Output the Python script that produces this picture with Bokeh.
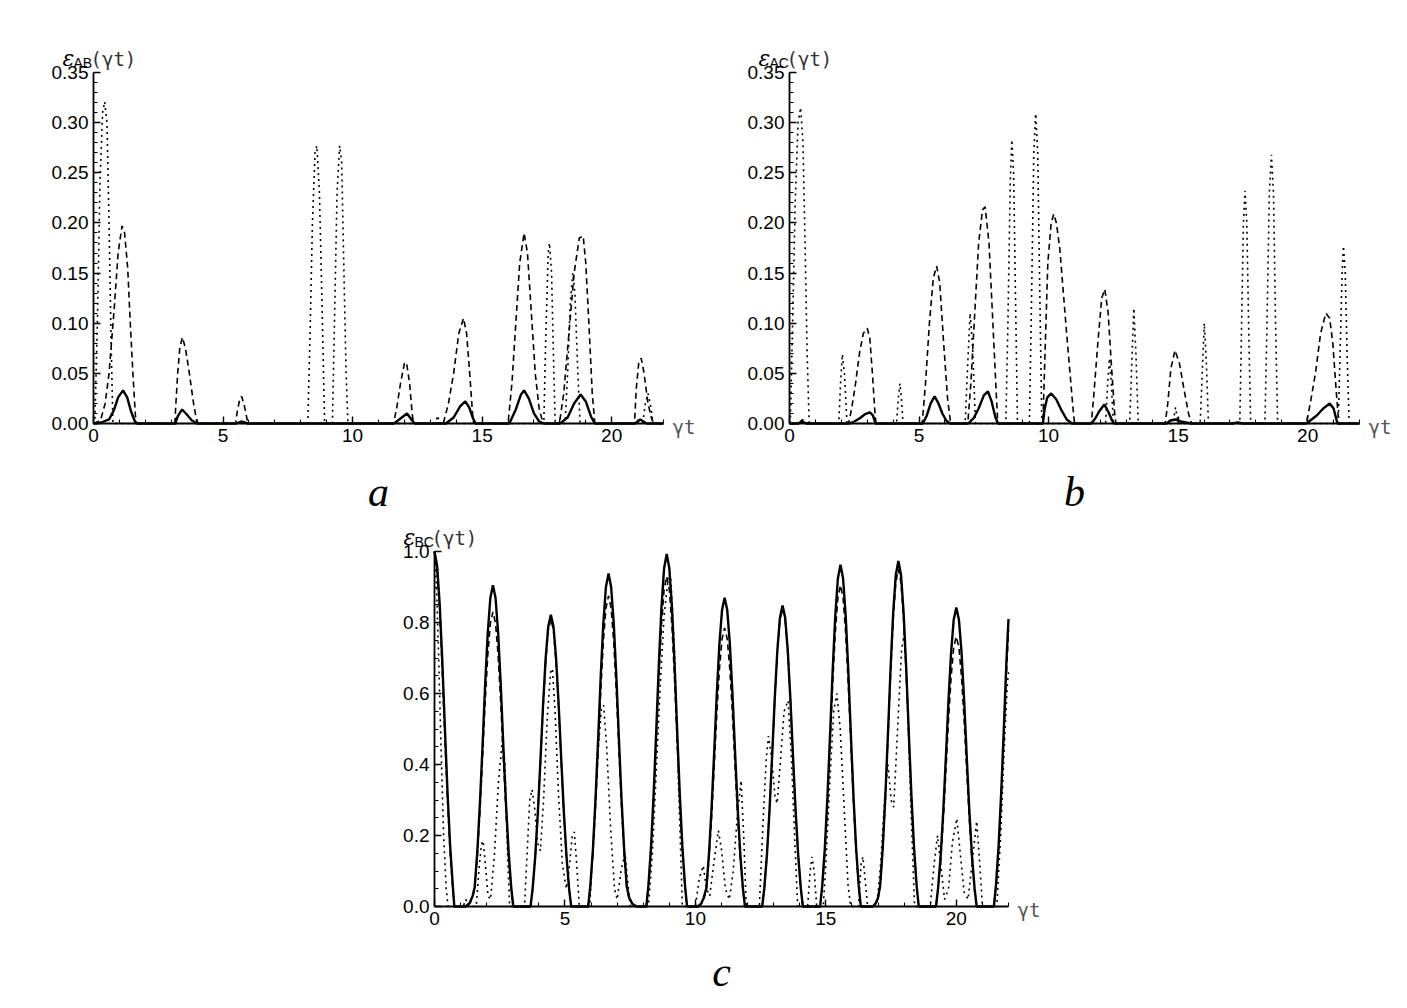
from bokeh.plotting import figure
from bokeh.layouts import column, row
from bokeh.models import Spacer, FixedTicker, PrintfTickFormatter, Range1d
from bokeh.core.properties import value
from bokeh.embed import file_html
from bokeh.resources import INLINE

# ---------------- data: panel a (E_AB) ----------------
ab_solid_t = [0, 0.3, 0.6, 0.8, 0.95, 1.14, 1.3, 1.45, 1.6, 1.68,
              3.15, 3.25, 3.42, 3.6, 3.8, 4.0,
              5.5, 5.7, 5.95,
              11.6, 11.8, 12.1, 12.3, 12.4,
              13.6, 13.9, 14.15, 14.35, 14.5, 14.65, 14.75,
              16.05, 16.3, 16.5, 16.62, 16.8, 17.0, 17.2, 17.4,
              18.0, 18.3, 18.55, 18.8, 19.0, 19.2, 19.35,
              20.9, 21.1, 21.35, 22.0]
ab_solid_v = [0, 0.001, 0.004, 0.014, 0.026, 0.033, 0.026, 0.012, 0.002, 0,
              0, 0.007, 0.014, 0.009, 0.003, 0,
              0, 0.002, 0,
              0, 0.004, 0.010, 0.003, 0,
              0, 0.006, 0.017, 0.022, 0.016, 0.005, 0,
              0, 0.014, 0.029, 0.033, 0.025, 0.010, 0.002, 0,
              0, 0.006, 0.020, 0.029, 0.022, 0.007, 0,
              0, 0.004, 0, 0]
ab_dash_t = [0, 0.27, 0.45, 0.6, 0.8, 0.95, 1.1, 1.2, 1.32, 1.42, 1.52, 1.62, 1.67,
             3.14, 3.18, 3.25, 3.33, 3.43, 3.55, 3.7, 3.85, 4.0,
             5.48, 5.55, 5.65, 5.72, 5.82, 5.93, 5.96,
             11.58, 11.7, 11.85, 12.0, 12.08, 12.2, 12.3, 12.35,
             13.5, 13.7, 13.9, 14.1, 14.28, 14.4, 14.52, 14.63, 14.67,
             16.0, 16.15, 16.3, 16.45, 16.62, 16.75, 16.9, 17.05, 17.2, 17.35,
             17.98, 18.15, 18.35, 18.55, 18.75, 18.9, 19.0, 19.12, 19.25, 19.35,
             20.88, 20.95, 21.05, 21.14, 21.25, 21.4, 21.55, 21.65, 22.0]
ab_dash_v = [0, 0.003, 0.02, 0.05, 0.115, 0.17, 0.197, 0.19, 0.155, 0.1, 0.05, 0.007, 0,
             0, 0.02, 0.05, 0.075, 0.086, 0.075, 0.05, 0.022, 0,
             0, 0.012, 0.025, 0.027, 0.018, 0.004, 0,
             0, 0.015, 0.04, 0.06, 0.061, 0.04, 0.01, 0,
             0, 0.02, 0.05, 0.09, 0.105, 0.09, 0.05, 0.01, 0,
             0, 0.04, 0.1, 0.16, 0.19, 0.17, 0.11, 0.05, 0.015, 0,
             0, 0.03, 0.09, 0.15, 0.185, 0.187, 0.16, 0.1, 0.03, 0,
             0, 0.035, 0.062, 0.065, 0.05, 0.02, 0.004, 0, 0]
ab_dot_t = [0, 0.05, 0.15, 0.25, 0.35, 0.43, 0.52, 0.6, 0.68, 0.75,
            8.27, 8.35, 8.45, 8.55, 8.62, 8.72, 8.82, 8.92,
            9.22, 9.3, 9.4, 9.5, 9.58, 9.65, 9.75, 9.82,
            13.2, 13.28, 13.36,
            17.38, 17.45, 17.55, 17.6, 17.68, 17.75, 17.82,
            18.2, 18.3, 18.4, 18.5, 18.58, 18.68, 18.78,
            21.2, 21.3, 21.4, 21.5, 21.6, 22.0]
ab_dot_v = [0, 0, 0.1, 0.24, 0.31, 0.321, 0.3, 0.2, 0.08, 0,
            0, 0.08, 0.2, 0.27, 0.277, 0.23, 0.12, 0,
            0, 0.1, 0.23, 0.277, 0.26, 0.17, 0.05, 0,
            0, 0.008, 0,
            0, 0.08, 0.17, 0.18, 0.15, 0.07, 0,
            0, 0.05, 0.12, 0.15, 0.13, 0.06, 0,
            0, 0.02, 0.03, 0.018, 0, 0]

# ---------------- data: panel b (E_AC) ----------------
ac_solid_t = [0, 0.35, 0.5, 0.65,
              2.3, 2.5, 2.7, 2.9, 3.1, 3.22, 3.32,
              5.15, 5.3, 5.45, 5.6, 5.75, 5.9, 6.05, 6.2,
              6.9, 7.1, 7.3, 7.5, 7.66, 7.8, 7.95, 8.05,
              9.78, 9.85, 9.95, 10.1, 10.3, 10.5, 10.7, 10.9,
              11.65, 11.8, 11.95, 12.15, 12.3, 12.45, 12.52,
              14.55, 14.7, 14.88, 15.1, 15.5,
              17.1, 17.3, 17.5,
              19.95, 20.1, 20.35, 20.6, 20.85, 21.0, 21.15, 22.0]
ac_solid_v = [0, 0, 0.002, 0,
              0, 0.002, 0.005, 0.009, 0.011, 0.008, 0,
              0, 0.008, 0.02, 0.027, 0.02, 0.01, 0.003, 0,
              0, 0.005, 0.015, 0.028, 0.032, 0.022, 0.006, 0,
              0, 0.015, 0.026, 0.030, 0.024, 0.013, 0.004, 0,
              0, 0.005, 0.012, 0.019, 0.012, 0.003, 0,
              0, 0.003, 0.004, 0.002, 0,
              0, 0.001, 0,
              0, 0.003, 0.008, 0.015, 0.02, 0.015, 0, 0]
ac_dash_t = [0, 0.35, 0.5, 0.65,
             2.28, 2.4, 2.55, 2.7, 2.85, 3.0, 3.1, 3.2, 3.3, 3.34,
             5.12, 5.25, 5.4, 5.55, 5.68, 5.8, 5.95, 6.1, 6.22,
             6.88, 7.0, 7.15, 7.3, 7.45, 7.55, 7.7, 7.85, 7.98, 8.04,
             9.78, 9.85, 9.97, 10.1, 10.2, 10.3, 10.43, 10.68, 10.94, 11.0,
             11.65, 11.75, 11.9, 12.05, 12.17, 12.3, 12.42, 12.55, 12.6,
             14.5, 14.6, 14.72, 14.88, 15.05, 15.22, 15.4, 15.52,
             19.95, 20.1, 20.3, 20.5, 20.7, 20.85, 20.97, 21.08, 21.2, 22.0]
ac_dash_v = [0, 0, 0.004, 0,
             0, 0.015, 0.04, 0.07, 0.09, 0.095, 0.085, 0.05, 0.01, 0,
             0, 0.04, 0.1, 0.145, 0.157, 0.14, 0.08, 0.025, 0,
             0, 0.04, 0.11, 0.18, 0.213, 0.216, 0.18, 0.1, 0.03, 0,
             0, 0.06, 0.16, 0.2, 0.209, 0.2, 0.175, 0.095, 0.016, 0,
             0, 0.03, 0.08, 0.125, 0.134, 0.11, 0.06, 0.01, 0,
             0, 0.02, 0.055, 0.073, 0.06, 0.035, 0.01, 0,
             0, 0.02, 0.05, 0.09, 0.11, 0.105, 0.08, 0.04, 0, 0]
ac_dot_t = [0.03, 0.12, 0.22, 0.33, 0.43, 0.52, 0.6, 0.68, 0.76,
            1.9, 1.97, 2.04, 2.12, 2.22,
            4.13, 4.2, 4.26, 4.32, 4.38,
            6.78, 6.88, 6.97, 7.06, 7.18,
            8.35, 8.43, 8.52, 8.58, 8.65, 8.72, 8.8,
            9.26, 9.34, 9.43, 9.5, 9.58, 9.66, 9.74,
            12.2, 12.28, 12.35, 12.42, 12.5,
            13.13, 13.21, 13.29, 13.37, 13.46,
            14.8, 14.9, 15.0,
            15.85, 15.93, 16.01, 16.09, 16.17,
            17.38, 17.45, 17.52, 17.58, 17.65, 17.72, 17.8,
            18.35, 18.43, 18.52, 18.6, 18.68, 18.76, 18.84,
            21.18, 21.26, 21.33, 21.38, 21.45, 21.52, 21.6, 22.0]
ac_dot_v = [0, 0.1, 0.22, 0.3, 0.315, 0.28, 0.18, 0.07, 0,
            0, 0.04, 0.069, 0.05, 0,
            0, 0.025, 0.04, 0.025, 0,
            0, 0.06, 0.11, 0.08, 0,
            0, 0.1, 0.24, 0.283, 0.25, 0.13, 0,
            0, 0.12, 0.27, 0.309, 0.27, 0.13, 0,
            0, 0.04, 0.065, 0.04, 0,
            0, 0.06, 0.115, 0.07, 0,
            0, 0.016, 0,
            0, 0.05, 0.1, 0.06, 0,
            0, 0.1, 0.2, 0.232, 0.2, 0.1, 0,
            0, 0.1, 0.23, 0.268, 0.23, 0.1, 0,
            0, 0.08, 0.15, 0.177, 0.15, 0.07, 0, 0]

# ---------------- data: panel c (E_BC) ----------------
bc_t = [0, 0.1, 0.2, 0.3, 0.4, 0.5, 0.6, 0.7, 0.76,
        1.2, 1.35, 1.46, 1.54, 1.64, 1.74, 1.84, 1.94, 2.04, 2.14, 2.24, 2.34, 2.44, 2.54, 2.64, 2.74, 2.84, 2.94, 3.02,
        3.68, 3.76, 3.86, 3.96, 4.06, 4.16, 4.26, 4.36, 4.46, 4.56, 4.66, 4.76, 4.86, 4.96, 5.06, 5.16, 5.24,
        5.89, 5.97, 6.07, 6.17, 6.27, 6.37, 6.47, 6.57, 6.67, 6.77, 6.87, 6.97, 7.07, 7.17, 7.27, 7.37, 7.46, 7.58, 7.75,
        8.12, 8.2, 8.3, 8.4, 8.5, 8.6, 8.7, 8.8, 8.9, 9.0, 9.1, 9.2, 9.3, 9.4, 9.5, 9.6, 9.68,
        10.1, 10.22, 10.32, 10.42, 10.52, 10.62, 10.72, 10.82, 10.92, 11.02, 11.12, 11.22, 11.32, 11.42, 11.52, 11.62, 11.72, 11.82, 11.9,
        12.56, 12.64, 12.74, 12.84, 12.94, 13.04, 13.14, 13.24, 13.34, 13.44, 13.54, 13.64, 13.74, 13.84, 13.94, 14.04, 14.12,
        14.78, 14.86, 14.96, 15.06, 15.16, 15.26, 15.36, 15.46, 15.56, 15.66, 15.76, 15.86, 15.96, 16.06, 16.16, 16.26, 16.34,
        16.8, 16.9, 17.0, 17.08, 17.18, 17.28, 17.38, 17.48, 17.58, 17.68, 17.78, 17.88, 17.98, 18.08, 18.18, 18.28, 18.38, 18.48, 18.56,
        19.22, 19.3, 19.4, 19.5, 19.6, 19.7, 19.8, 19.9, 20.0, 20.1, 20.2, 20.3, 20.4, 20.5, 20.6, 20.7, 20.78,
        21.44, 21.52, 21.62, 21.72, 21.82, 21.92, 22.0]
bc_solid = [1.0, 0.96, 0.85, 0.69, 0.5, 0.32, 0.17, 0.06, 0,
            0, 0.01, 0.03, 0.054, 0.154, 0.29, 0.45, 0.624, 0.769, 0.869, 0.905, 0.869, 0.769, 0.624, 0.45, 0.29, 0.154, 0.054, 0,
            0, 0.049, 0.14, 0.263, 0.411, 0.567, 0.699, 0.789, 0.822, 0.789, 0.699, 0.567, 0.411, 0.263, 0.14, 0.049, 0,
            0, 0.056, 0.159, 0.3, 0.469, 0.647, 0.797, 0.9, 0.938, 0.9, 0.797, 0.647, 0.469, 0.3, 0.159, 0.056, 0.025, 0.008, 0,
            0, 0.06, 0.169, 0.318, 0.497, 0.685, 0.844, 0.953, 0.993, 0.953, 0.844, 0.685, 0.497, 0.318, 0.169, 0.06, 0,
            0, 0.008, 0.025, 0.052, 0.148, 0.278, 0.435, 0.6, 0.74, 0.835, 0.87, 0.835, 0.74, 0.6, 0.435, 0.278, 0.148, 0.052, 0,
            0, 0.051, 0.144, 0.271, 0.424, 0.585, 0.721, 0.814, 0.848, 0.814, 0.721, 0.585, 0.424, 0.271, 0.144, 0.051, 0,
            0, 0.058, 0.164, 0.308, 0.482, 0.664, 0.819, 0.924, 0.963, 0.924, 0.819, 0.664, 0.482, 0.308, 0.164, 0.058, 0,
            0, 0.008, 0.025, 0.058, 0.165, 0.311, 0.487, 0.671, 0.827, 0.934, 0.973, 0.934, 0.827, 0.671, 0.487, 0.311, 0.165, 0.058, 0,
            0, 0.051, 0.143, 0.269, 0.421, 0.581, 0.716, 0.808, 0.842, 0.808, 0.716, 0.581, 0.421, 0.269, 0.143, 0.051, 0,
            0, 0.06, 0.17, 0.32, 0.5, 0.69, 0.81]
bc_dash = [1.0, 0.95, 0.83, 0.66, 0.47, 0.3, 0.15, 0.05, 0,
           0, 0.008, 0.025, 0.05, 0.141, 0.266, 0.415, 0.573, 0.706, 0.797, 0.83, 0.797, 0.706, 0.573, 0.415, 0.266, 0.141, 0.05, 0,
           0, 0.049, 0.138, 0.259, 0.405, 0.559, 0.689, 0.778, 0.81, 0.778, 0.689, 0.559, 0.405, 0.259, 0.138, 0.049, 0,
           0, 0.053, 0.149, 0.28, 0.438, 0.604, 0.744, 0.84, 0.875, 0.84, 0.744, 0.604, 0.438, 0.28, 0.149, 0.053, 0.022, 0.007, 0,
           0, 0.056, 0.158, 0.298, 0.465, 0.642, 0.791, 0.893, 0.93, 0.893, 0.791, 0.642, 0.465, 0.298, 0.158, 0.056, 0,
           0, 0.007, 0.022, 0.047, 0.133, 0.251, 0.393, 0.542, 0.667, 0.754, 0.785, 0.754, 0.667, 0.542, 0.393, 0.251, 0.133, 0.047, 0,
           0, 0.05, 0.143, 0.269, 0.42, 0.58, 0.714, 0.806, 0.84, 0.806, 0.714, 0.58, 0.42, 0.269, 0.143, 0.05, 0,
           0, 0.054, 0.154, 0.29, 0.453, 0.624, 0.769, 0.869, 0.905, 0.869, 0.769, 0.624, 0.453, 0.29, 0.154, 0.054, 0,
           0, 0.007, 0.022, 0.057, 0.162, 0.304, 0.475, 0.656, 0.808, 0.912, 0.95, 0.912, 0.808, 0.656, 0.475, 0.304, 0.162, 0.057, 0,
           0, 0.046, 0.129, 0.243, 0.38, 0.524, 0.646, 0.73, 0.76, 0.73, 0.646, 0.524, 0.38, 0.243, 0.129, 0.046, 0,
           0, 0.055, 0.16, 0.3, 0.47, 0.65, 0.78]
bc_dot_t = [0, 0.08, 0.16, 0.25, 0.35, 0.45, 0.52,
            1.1, 1.2, 1.3,
            1.6, 1.7, 1.8, 1.86, 1.95, 2.05, 2.15, 2.3, 2.45, 2.6, 2.7, 2.8, 2.88,
            3.45, 3.55, 3.65, 3.74, 3.85, 3.95, 4.06, 4.18, 4.32, 4.45, 4.52, 4.62, 4.75, 4.9, 5.05, 5.15, 5.28, 5.36, 5.45, 5.55,
            5.95, 6.1, 6.25, 6.4, 6.48, 6.6, 6.75, 6.9, 7.0, 7.15, 7.3, 7.42, 7.5,
            8.2, 8.35, 8.5, 8.65, 8.8, 8.95, 9.05, 9.2, 9.35, 9.5,
            10.0, 10.15, 10.3, 10.42, 10.55, 10.7, 10.88, 11.0, 11.15, 11.3, 11.45, 11.6, 11.75, 11.85, 11.95,
            12.45, 12.6, 12.72, 12.8, 12.92, 13.05, 13.13, 13.25, 13.4, 13.55, 13.68, 13.8, 13.92,
            14.3, 14.4, 14.47, 14.55, 14.65,
            14.9, 15.0, 15.15, 15.3, 15.42, 15.55, 15.7, 15.85, 15.95,
            16.25, 16.35, 16.42, 16.5, 16.6,
            16.95, 17.1, 17.25, 17.38, 17.5, 17.6, 17.75, 17.9, 18.0, 18.12, 18.25, 18.4,
            19.0, 19.15, 19.28, 19.4, 19.55, 19.7, 19.85, 20.02, 20.15, 20.3, 20.45, 20.6, 20.78, 20.9, 21.0,
            21.55, 21.7, 21.82, 21.95, 22.0]
bc_dot_v = [1.0, 0.9, 0.7, 0.45, 0.2, 0.05, 0,
            0, 0.02, 0,
            0, 0.1, 0.175, 0.185, 0.12, 0.03, 0.02, 0.15, 0.35, 0.468, 0.4, 0.15, 0,
            0, 0.15, 0.3, 0.33, 0.27, 0.18, 0.157, 0.3, 0.53, 0.66, 0.67, 0.55, 0.32, 0.12, 0.05, 0.1, 0.2, 0.21, 0.12, 0,
            0, 0.2, 0.42, 0.56, 0.567, 0.45, 0.22, 0.05, 0.02, 0.1, 0.15, 0.06, 0,
            0, 0.15, 0.38, 0.62, 0.82, 0.92, 0.93, 0.72, 0.35, 0,
            0, 0.08, 0.115, 0.05, 0.03, 0.12, 0.214, 0.16, 0.05, 0.02, 0.1, 0.25, 0.355, 0.2, 0,
            0, 0.25, 0.42, 0.48, 0.42, 0.31, 0.29, 0.4, 0.55, 0.58, 0.42, 0.2, 0,
            0, 0.1, 0.14, 0.1, 0,
            0, 0.12, 0.35, 0.55, 0.6, 0.5, 0.28, 0.06, 0,
            0, 0.12, 0.14, 0.08, 0,
            0, 0.12, 0.3, 0.4, 0.3, 0.28, 0.5, 0.72, 0.77, 0.6, 0.3, 0,
            0, 0.12, 0.2, 0.12, 0.02, 0.05, 0.18, 0.248, 0.15, 0.04, 0.02, 0.12, 0.24, 0.12, 0,
            0, 0.2, 0.42, 0.62, 0.66]

# ---------------- ticks / labels ----------------
x_max = 22.0
x_ticks = [0, 5, 10, 15, 20]
x_minor = [1, 2, 3, 4, 6, 7, 8, 9, 11, 12, 13, 14, 16, 17, 18, 19, 21, 22]
ab_y_ticks = [0.0, 0.05, 0.10, 0.15, 0.20, 0.25, 0.30, 0.35]
ab_y_minor = [0.01, 0.02, 0.03, 0.04, 0.06, 0.07, 0.08, 0.09, 0.11, 0.12, 0.13, 0.14,
              0.16, 0.17, 0.18, 0.19, 0.21, 0.22, 0.23, 0.24, 0.26, 0.27, 0.28, 0.29,
              0.31, 0.32, 0.33, 0.34]
bc_y_ticks = [0.0, 0.2, 0.4, 0.6, 0.8, 1.0]
bc_y_minor = [0.05, 0.1, 0.15, 0.25, 0.3, 0.35, 0.45, 0.5, 0.55, 0.65, 0.7, 0.75, 0.85, 0.9, 0.95]
panel_letters = ["a", "b", "c"]
subscripts = ["AB", "AC", "BC"]

TICK_FONT = "Liberation Sans"


def make_panel(fig_x, fig_y, fig_w, fig_h, org_x, org_y, frame_w, frame_h, ymax,
               yticks, yminor, yfmt, letter, letter_dy, sub, solid, dash, dot):
    # pixel geometry -> data ranges (frame fills the whole figure)
    sx = frame_w / x_max
    sy = frame_h / ymax
    xr = Range1d((fig_x - org_x) / sx, (fig_x + fig_w - org_x) / sx)
    yr = Range1d((org_y - (fig_y + fig_h)) / sy, (org_y - fig_y) / sy)
    p = figure(width=fig_w, height=fig_h, x_range=xr, y_range=yr,
               output_backend="svg", toolbar_location=None, min_border=0)
    p.outline_line_color = None
    p.grid.visible = False
    p.background_fill_color = "white"
    p.border_fill_color = "white"

    p.xaxis.ticker = FixedTicker(ticks=x_ticks, minor_ticks=x_minor)
    p.yaxis.ticker = FixedTicker(ticks=yticks, minor_ticks=yminor)
    p.yaxis.formatter = PrintfTickFormatter(format=yfmt)
    p.xaxis.formatter = PrintfTickFormatter(format="%d")
    p.xaxis.fixed_location = 0
    p.yaxis.fixed_location = 0
    p.xaxis.bounds = (0, x_max)
    p.yaxis.bounds = (0, ymax)
    for ax in (p.xaxis[0], p.yaxis[0]):
        ax.axis_line_width = 1.8
        ax.axis_line_color = "black"
        ax.major_tick_in = 7
        ax.major_tick_out = 0
        ax.minor_tick_in = 4
        ax.minor_tick_out = 0
        ax.major_tick_line_width = 1.4
        ax.minor_tick_line_width = 1.1
        ax.major_label_text_font = TICK_FONT
        ax.major_label_text_font_size = "19px"
        ax.major_label_text_color = "black"
        ax.major_label_standoff = 5

    p.line(dot[0], dot[1], line_color="black", line_width=1.6, line_dash="2 4")
    p.line(dash[0], dash[1], line_color="black", line_width=1.6, line_dash="6 4")
    p.line(solid[0], solid[1], line_color="black", line_width=2.4)

    def put(dx, dy, txt, font, size, style="normal", color="black", align="left", baseline="alphabetic"):
        p.text(x=[dx / sx], y=[dy / sy], text=[txt], text_font=value(font),
               text_font_size=value(size), text_font_style=style, text_color=color,
               text_align=align, text_baseline=baseline)

    top = frame_h
    put(-31, top + 14, "\u03b5", "DejaVu Serif", "22px", style="italic")
    put(-20, top + 10, sub, TICK_FONT, "14px")
    put(-3, top + 14, "(\u03b3t)", "DejaVu Sans Mono", "19px", color="#333333")
    put(frame_w + 9, -3, "\u03b3t", "DejaVu Sans Mono", "19px", color="#555555", baseline="middle")
    put(frame_w / 2, letter_dy, letter, "Liberation Serif", "42px", style="italic", align="center",
        baseline="middle")
    return p


fa = make_panel(0, 0, 705, 523, 93, 423, 570, 351, 0.35, ab_y_ticks, ab_y_minor, "%.2f",
                panel_letters[0], -68, subscripts[0],
                (ab_solid_t, ab_solid_v), (ab_dash_t, ab_dash_v), (ab_dot_t, ab_dot_v))
fb = make_panel(705, 0, 695, 523, 789, 423, 570, 351, 0.35, ab_y_ticks, ab_y_minor, "%.2f",
                panel_letters[1], -68, subscripts[1],
                (ac_solid_t, ac_solid_v), (ac_dash_t, ac_dash_v), (ac_dot_t, ac_dot_v))
fc = make_panel(349, 523, 701, 480, 434, 906, 574, 355, 1.0, bc_y_ticks, bc_y_minor, "%.1f",
                panel_letters[2], -65, subscripts[2],
                (bc_t, bc_solid), (bc_t, bc_dash), (bc_dot_t, bc_dot_v))

layout = column(row(fa, fb), row(Spacer(width=349, height=480), fc))

open("out.html", "w").write(file_html(layout, INLINE))
